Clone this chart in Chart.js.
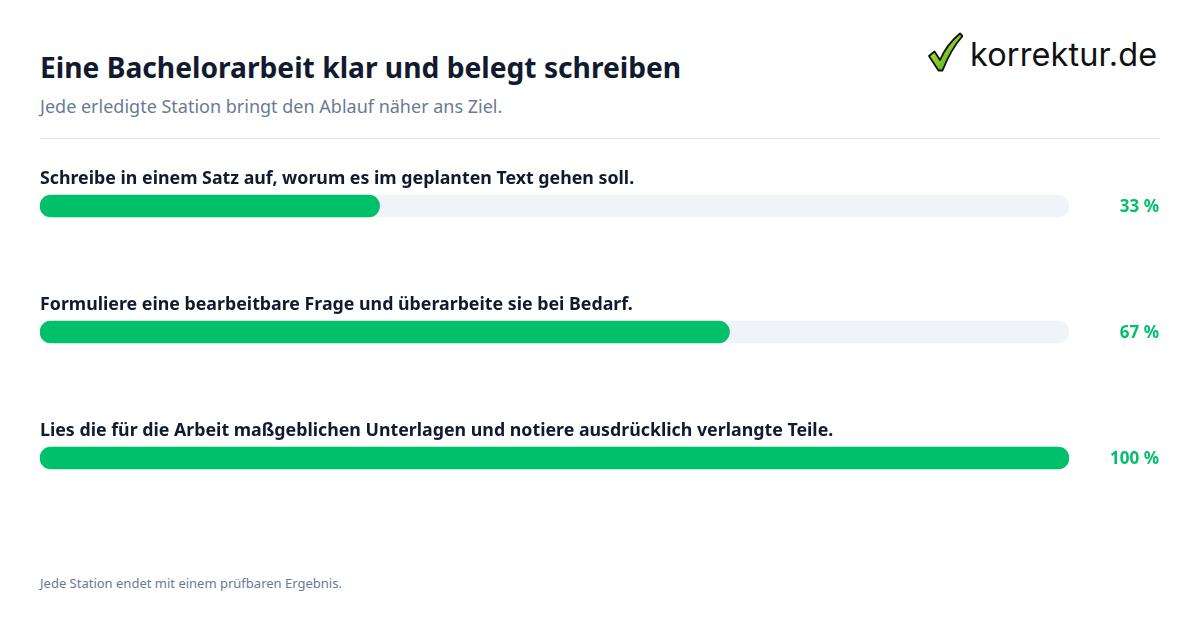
<!DOCTYPE html>
<html>
<head>
  <meta charset="utf-8">
  <title>Eine Bachelorarbeit klar und belegt schreiben</title>
  <script src="https://cdn.jsdelivr.net/npm/chart.js@4.4.1/dist/chart.umd.min.js"></script>
  <style>
    html, body { margin: 0; padding: 0; background: #fff; }
    body { width: 1200px; height: 630px; position: relative; overflow: hidden; font-family: "Noto Sans", sans-serif; }
    #title { position: absolute; left: 40px; top: 48px; font-size: 28.2px; font-weight: 700; color: #111a2e; margin: 0; }
    #subtitle { position: absolute; left: 40px; top: 94px; font-size: 18px; color: #6b7a93; margin: 0; }
    #rule { position: absolute; left: 40px; top: 138px; width: 1120px; height: 1px; background: #e5e8ee; }
    #logo { position: absolute; left: 927px; top: 29px; height: 46px; display: flex; align-items: center; }
    #logo span { font-family: "Inter", sans-serif; font-size: 32.5px; color: #111; margin-left: 7px; margin-top: 4px; letter-spacing: 0.1px; }
    #wrap { position: absolute; left: 40px; top: 143px; width: 1120px; height: 378px; }
    #footer { position: absolute; left: 40px; top: 574px; font-size: 13px; color: #6b7a93; margin: 0; }
  </style>
</head>
<body>
  <h1 id="title">Eine Bachelorarbeit klar und belegt schreiben</h1>
  <p id="subtitle">Jede erledigte Station bringt den Ablauf näher ans Ziel.</p>
  <div id="rule"></div>
  <div id="logo">
    <svg width="36" height="42" viewBox="0 0 36 42">
      <defs>
        <linearGradient id="g" x1="0" y1="0" x2="1" y2="1">
          <stop offset="0" stop-color="#c8f545"/>
          <stop offset="1" stop-color="#3e9e0c"/>
        </linearGradient>
      </defs>
      <path d="M2 25 L7.5 20.5 L13 29 Q20 13 33 2.5 L35.5 5 Q24 18 15.5 39.5 L11.5 39.5 Z" fill="url(#g)" stroke="#111" stroke-width="1.8" stroke-linejoin="round"/>
    </svg>
    <span>korrektur.de</span>
  </div>
  <div id="wrap"><canvas id="chart"></canvas></div>
  <p id="footer">Jede Station endet mit einem prüfbaren Ergebnis.</p>

  <script>
    // Stationen und Fortschritt in Prozent
    const stations = [
      'Schreibe in einem Satz auf, worum es im geplanten Text gehen soll.',
      'Formuliere eine bearbeitbare Frage und überarbeite sie bei Bedarf.',
      'Lies die für die Arbeit maßgeblichen Unterlagen und notiere ausdrücklich verlangte Teile.'
    ];
    const progress = [33, 67, 100];
    const track = [100, 100, 100];

    const green = '#00c16a';

    // Beschriftung über jedem Balken und Prozentwert rechts
    const labelPlugin = {
      id: 'labels',
      afterDatasetsDraw(chart) {
        const ctx = chart.ctx;
        const y = chart.scales.y;
        ctx.save();
        stations.forEach((s, i) => {
          const cy = y.getPixelForValue(i);
          ctx.fillStyle = '#111a2e';
          ctx.font = '700 17.8px "Noto Sans"';
          ctx.textAlign = 'left';
          ctx.textBaseline = 'middle';
          ctx.fillText(s, 0, cy - 27);
          ctx.fillStyle = green;
          ctx.font = '700 17px "Noto Sans"';
          ctx.textAlign = 'right';
          ctx.fillText(progress[i] + ' %', chart.width - 1, cy + 1.5);
        });
        ctx.restore();
      }
    };

    new Chart(document.getElementById('chart'), {
      type: 'bar',
      data: {
        labels: stations,
        datasets: [
          {
            data: progress,
            backgroundColor: green,
            borderRadius: 11,
            borderSkipped: false,
            barThickness: 22,
            grouped: false,
            order: 0
          },
          {
            data: track,
            backgroundColor: '#f0f3f8',
            borderRadius: 11,
            borderSkipped: false,
            barThickness: 22,
            grouped: false,
            order: 1
          }
        ]
      },
      options: {
        indexAxis: 'y',
        responsive: true,
        maintainAspectRatio: false,
        animation: false,
        layout: { padding: { left: 0, right: 91, top: 0, bottom: 0 } },
        plugins: { legend: { display: false }, tooltip: { enabled: false } },
        scales: {
          x: { min: 0, max: 100, display: false },
          y: { display: false }
        }
      },
      plugins: [labelPlugin]
    });
  </script>
</body>
</html>
